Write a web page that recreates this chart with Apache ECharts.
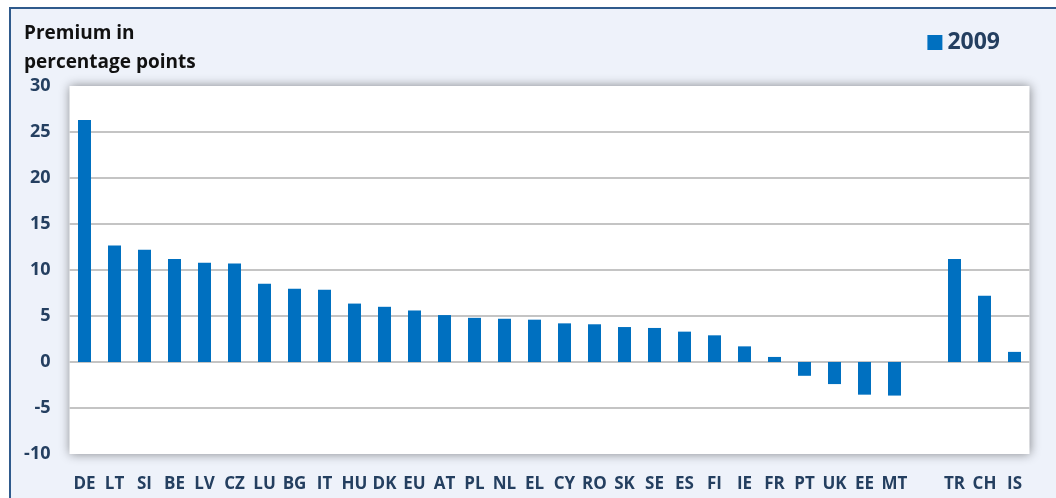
<!DOCTYPE html>
<html>
<head>
<meta charset="utf-8">
<script src="https://cdn.jsdelivr.net/npm/echarts@6/dist/echarts.min.js"></script>
<style>
  html, body { margin: 0; padding: 0; background: #ffffff; }
  .wrap { position: relative; width: 1056px; height: 498px; overflow: hidden; }
  .frame {
    position: absolute; left: 9px; top: 7px; width: 1060px; height: 500px;
    border: 2px solid #2f5a8c; background: #eef2fa;
  }
  #chart { position: absolute; left: 0; top: 0; width: 1056px; height: 498px; }
</style>
</head>
<body>
<div class="wrap">
  <div class="frame"></div>
  <div id="chart"></div>
</div>
<script>
// countries, sorted; empty slot separates the non-EU group
const countries = ['DE', 'LT', 'SI', 'BE', 'LV', 'CZ', 'LU', 'BG', 'IT', 'HU', 'DK', 'EU', 'AT', 'PL',
  'NL', 'EL', 'CY', 'RO', 'SK', 'SE', 'ES', 'FI', 'IE', 'FR', 'PT', 'UK', 'EE', 'MT', '', 'TR', 'CH', 'IS']
const premium2009 = [26.3, 12.65, 12.2, 11.2, 10.8, 10.7, 8.5, 7.95, 7.85, 6.35, 6.0, 5.6, 5.1, 4.8,
  4.7, 4.6, 4.2, 4.1, 3.8, 3.7, 3.3, 2.9, 1.7, 0.55, -1.5, -2.4, -3.55, -3.65, '-', 11.2, 7.2, 1.1]
const seriesName = '2009'

const chart = echarts.init(document.getElementById('chart'))
const labelFont = '"Open Sans", Lato, sans-serif'

chart.setOption({
  backgroundColor: 'transparent',
  animation: false,
  title: {
    text: 'Premium in\npercentage points',
    left: 19,
    top: 14,
    textStyle: {
      fontFamily: labelFont,
      fontWeight: 'bold',
      fontSize: 19,
      color: '#111111',
      lineHeight: 29
    }
  },
  legend: {
    data: [seriesName],
    right: 51,
    top: 26,
    icon: 'rect',
    itemWidth: 15,
    itemHeight: 15,
    itemGap: 6,
    textStyle: {
      fontFamily: labelFont,
      fontWeight: 'bold',
      fontSize: 23,
      color: '#243f60'
    }
  },
  grid: {
    left: 69.5,
    right: 26.5,
    top: 86,
    bottom: 44,
    show: true,
    backgroundColor: '#ffffff',
    borderWidth: 0,
    shadowBlur: 10,
    shadowColor: 'rgba(0,0,0,0.45)',
    shadowOffsetX: 0,
    shadowOffsetY: 0
  },
  xAxis: {
    type: 'category',
    data: countries,
    axisLine: { show: false },
    axisTick: { show: false },
    axisLabel: {
      interval: 0,
      margin: 22,
      fontFamily: labelFont,
      fontWeight: 'bold',
      fontSize: 17,
      color: '#243f60'
    }
  },
  yAxis: {
    type: 'value',
    min: -10,
    max: 30,
    interval: 5,
    axisLine: { show: false },
    axisTick: { show: false },
    axisLabel: {
      margin: 19,
      fontFamily: labelFont,
      fontWeight: 'bold',
      fontSize: 18,
      color: '#243f60'
    },
    splitLine: {
      showMinLine: false,
      showMaxLine: false,
      lineStyle: { color: '#c4c4c4', width: 2 }
    }
  },
  series: [
    {
      name: seriesName,
      type: 'bar',
      data: premium2009,
      barWidth: 13,
      itemStyle: { color: '#0070c0' }
    }
  ]
})
</script>
</body>
</html>
